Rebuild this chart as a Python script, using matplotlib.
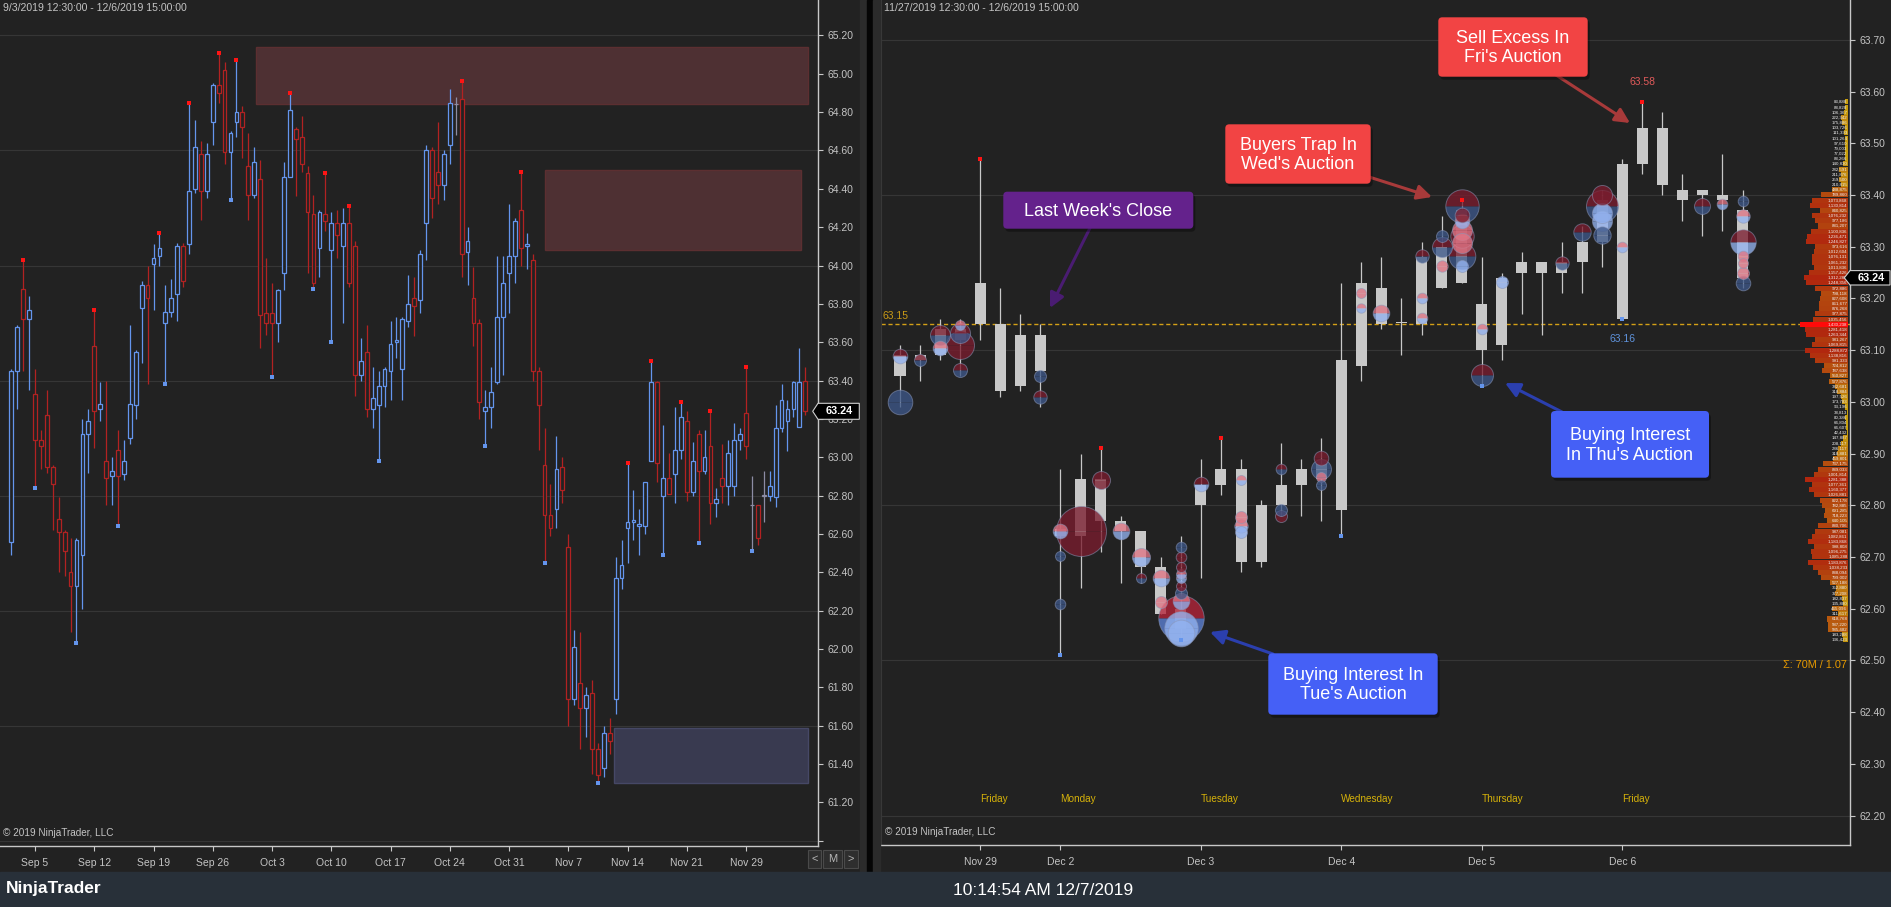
import matplotlib
matplotlib.use('Agg')
import matplotlib.pyplot as plt
import matplotlib.patches as mpatches
import matplotlib.transforms as mtransforms
import numpy as np

plt.rcParams['font.family'] = ['Liberation Sans', 'DejaVu Sans']

W, H = 1891, 907
BG = '#222222'
GRID = '#363636'
AXC = '#c8c8c8'
TXT = '#c4c4c4'

# ---------------- left chart: two bars per session, Sep 3 - Dec 6 ----------------
d_open = [62.56, 63.45, 63.88, 63.72, 63.33, 63.09, 63.22, 62.95, 62.68, 62.61,
          62.40, 62.33, 62.49, 63.12, 63.58, 63.25, 62.98, 62.90, 63.04, 62.91,
          63.10, 63.27, 63.78, 63.90, 64.01, 64.05, 63.70, 63.76, 63.85, 64.10,
          64.11, 64.40, 64.58, 64.39, 64.75, 64.94, 65.02, 64.59, 64.75, 64.80,
          64.52, 64.37, 64.45, 63.75, 63.75, 63.70, 63.96, 64.46, 64.71, 64.67,
          64.48, 64.27, 64.09, 64.27, 64.08, 64.22, 64.10, 64.22, 64.10, 63.43,
          63.55, 63.25, 63.27, 63.37, 63.45, 63.60, 63.46, 63.71, 63.83, 63.82,
          64.22, 64.60, 64.49, 64.42, 64.63, 64.84, 64.87, 64.07, 63.83, 63.70,
          63.24, 63.26, 63.39, 63.73, 63.96, 64.05, 64.29, 64.10, 64.03, 63.45,
          62.96, 62.70, 62.73, 62.95, 62.53, 61.74, 61.82, 61.69, 61.77, 61.48,
          61.38, 61.56, 61.74, 62.37, 62.63, 62.66, 62.64, 62.64, 62.98, 63.39,
          62.80, 62.89, 62.91, 63.04, 63.19, 62.82, 63.12, 62.93, 63.06, 62.76,
          62.89, 62.85, 62.85, 63.09, 63.23, 62.75, 62.75, 62.80, 62.80, 62.79,
          63.15, 63.19, 63.25, 63.16, 63.40]
d_high = [63.46, 63.69, 64.03, 63.84, 63.46, 63.14, 63.35, 62.96, 62.79, 62.62,
          62.58, 62.58, 63.20, 63.25, 63.77, 63.39, 63.40, 63.00, 63.14, 63.09,
          63.69, 63.56, 63.92, 64.00, 64.11, 64.17, 63.90, 63.93, 64.12, 64.12,
          64.85, 64.76, 64.65, 64.64, 64.95, 65.11, 65.06, 64.70, 65.07, 64.83,
          64.69, 64.62, 64.55, 64.04, 63.91, 63.88, 64.54, 64.90, 64.72, 64.78,
          64.52, 64.37, 64.29, 64.48, 64.28, 64.29, 64.30, 64.31, 64.13, 63.62,
          63.69, 63.47, 63.45, 63.47, 63.71, 63.73, 63.73, 63.95, 63.94, 64.08,
          64.63, 64.62, 64.75, 64.60, 64.92, 64.88, 64.96, 64.20, 63.99, 63.72,
          63.35, 63.47, 64.05, 64.05, 64.32, 64.25, 64.49, 64.17, 64.06, 63.47,
          63.15, 62.86, 63.11, 63.00, 62.60, 62.10, 62.09, 61.80, 61.84, 61.51,
          61.60, 61.64, 62.48, 62.57, 62.97, 62.83, 62.73, 62.87, 63.50, 63.40,
          63.17, 63.02, 63.26, 63.29, 63.24, 63.08, 63.14, 63.14, 63.24, 62.84,
          63.07, 63.09, 63.18, 63.15, 63.47, 62.90, 62.75, 62.93, 62.93, 63.27,
          63.38, 63.30, 63.40, 63.57, 63.47]
d_low = [62.49, 63.25, 63.45, 63.35, 62.84, 62.94, 62.92, 62.62, 62.40, 62.38,
         62.09, 62.03, 62.21, 62.92, 63.05, 63.19, 62.75, 62.75, 62.64, 62.88,
         63.07, 63.20, 63.49, 63.38, 63.77, 64.00, 63.38, 63.73, 63.71, 63.89,
         64.06, 64.38, 64.24, 64.35, 64.63, 64.85, 64.53, 64.34, 64.67, 64.56,
         64.24, 64.35, 63.57, 63.64, 63.42, 63.60, 63.87, 64.46, 64.36, 64.49,
         63.96, 63.88, 63.94, 64.18, 63.60, 64.04, 63.70, 63.89, 63.32, 63.40,
         63.21, 63.15, 62.98, 63.26, 63.30, 63.52, 63.30, 63.68, 63.63, 63.75,
         64.03, 64.25, 64.32, 64.34, 64.53, 64.68, 63.94, 63.90, 63.58, 63.20,
         63.06, 63.15, 63.38, 63.43, 63.75, 63.91, 64.00, 63.98, 63.40, 63.04,
         62.45, 62.59, 62.63, 62.76, 61.60, 61.71, 61.48, 61.54, 61.35, 61.30,
         61.33, 61.45, 61.66, 62.31, 62.45, 62.57, 62.49, 62.60, 62.98, 62.87,
         62.49, 62.81, 62.76, 62.99, 62.77, 62.80, 62.55, 62.91, 62.65, 62.69,
         62.76, 62.75, 62.80, 63.04, 62.99, 62.51, 62.54, 62.66, 62.77, 62.74,
         63.13, 63.03, 63.21, 63.16, 63.22]
d_close = [63.45, 63.68, 63.72, 63.77, 63.09, 63.06, 62.95, 62.86, 62.61, 62.51,
           62.33, 62.57, 63.12, 63.19, 63.24, 63.28, 62.89, 62.93, 62.90, 62.98,
           63.28, 63.55, 63.90, 63.83, 64.04, 64.09, 63.76, 63.83, 64.10, 63.92,
           64.39, 64.62, 64.39, 64.58, 64.94, 64.90, 64.59, 64.69, 64.80, 64.72,
           64.37, 64.54, 63.74, 63.70, 63.70, 63.87, 64.46, 64.81, 64.66, 64.53,
           64.28, 63.91, 64.28, 64.23, 64.22, 64.16, 64.22, 63.91, 63.43, 63.50,
           63.25, 63.31, 63.37, 63.46, 63.59, 63.61, 63.72, 63.80, 63.79, 64.06,
           64.60, 64.35, 64.42, 64.58, 64.85, 64.84, 64.06, 64.13, 63.70, 63.29,
           63.26, 63.34, 63.73, 63.91, 64.05, 64.23, 64.09, 64.11, 63.45, 63.27,
           62.70, 62.63, 62.94, 62.83, 61.74, 62.01, 61.69, 61.76, 61.48, 61.34,
           61.56, 61.52, 62.37, 62.44, 62.66, 62.67, 62.65, 62.87, 63.39, 62.97,
           62.89, 62.81, 63.04, 63.21, 62.82, 62.98, 62.93, 63.00, 62.76, 62.78,
           62.85, 63.02, 63.09, 63.12, 63.06, 62.75, 62.58, 62.80, 62.85, 63.15,
           63.30, 63.25, 63.39, 63.39, 63.24]
d_swing_high = [2, 14, 25, 30, 35, 38, 47, 53, 57, 76, 86, 104, 108, 113, 118, 124]
d_swing_low = [4, 11, 18, 26, 37, 44, 51, 54, 62, 80, 90, 99, 110, 116, 125]
d_tick_bar = [4, 14, 24, 34, 44, 54, 64, 74, 84, 94, 104, 114, 124]
d_tick_lbl = ['Sep 5', 'Sep 12', 'Sep 19', 'Sep 26', 'Oct 3', 'Oct 10', 'Oct 17',
              'Oct 24', 'Oct 31', 'Nov 7', 'Nov 14', 'Nov 21', 'Nov 29']
d_price_ticks = [61.0, 61.2, 61.4, 61.6, 61.8, 62.0, 62.2, 62.4, 62.6, 62.8, 63.0,
                 63.2, 63.4, 63.6, 63.8, 64.0, 64.2, 64.4, 64.6, 64.8, 65.0, 65.2]
d_grid = [61.0, 61.6, 62.2, 62.8, 63.4, 64.0, 64.6, 65.2]
zone_start = [41.3, 90.1, 101.8]
zone_end = [134.4, 133.2, 134.4]
zone_low = [64.84, 64.08, 61.30]
zone_high = [65.14, 64.50, 61.59]
zone_face = ['#4e3033', '#4e3033', '#393a50']
zone_edge = ['#5c2f31', '#5c2f31', '#464866']

# ---------------- right chart: hourly bars, Nov 27 - Dec 6 ----------------
r_open = [63.09, 63.09, 63.14, 63.14, 63.15, 63.15, 63.13, 63.13, 62.755, 62.74,
          62.85, 62.77, 62.75, 62.68, 62.60, 62.80, 62.84, 62.87, 62.69, 62.80,
          62.84, 62.88, 62.79, 63.07, 63.22, 63.152, 63.15, 63.30, 63.23, 63.19,
          63.11, 63.25, 63.27, 63.25, 63.27, 63.31, 63.16, 63.46, 63.53, 63.41,
          63.40, 63.40, 63.37]
r_high = [63.11, 63.11, 63.16, 63.16, 63.47, 63.22, 63.17, 63.15, 62.87, 62.90,
          62.91, 62.78, 62.75, 62.70, 62.74, 62.89, 62.93, 62.89, 62.81, 62.92,
          62.89, 62.93, 63.23, 63.27, 63.28, 63.20, 63.31, 63.36, 63.39, 63.28,
          63.25, 63.29, 63.27, 63.31, 63.34, 63.41, 63.47, 63.58, 63.56, 63.44,
          63.41, 63.48, 63.41]
r_low = [62.99, 63.04, 63.08, 63.05, 63.12, 63.01, 63.02, 62.99, 62.51, 62.64,
         62.71, 62.65, 62.65, 62.59, 62.54, 62.66, 62.82, 62.67, 62.68, 62.78,
         62.78, 62.77, 62.74, 63.04, 63.14, 63.09, 63.13, 63.22, 63.23, 63.03,
         63.08, 63.17, 63.13, 63.21, 63.21, 63.26, 63.16, 63.44, 63.40, 63.35,
         63.32, 63.33, 63.22]
r_close = [63.05, 63.08, 63.09, 63.12, 63.23, 63.02, 63.03, 63.06, 62.74, 62.85,
           62.77, 62.75, 62.68, 62.59, 62.56, 62.84, 62.87, 62.69, 62.80, 62.84,
           62.87, 62.85, 63.08, 63.23, 63.15, 63.152, 63.28, 63.22, 63.37, 63.10,
           63.24, 63.27, 63.25, 63.27, 63.31, 63.39, 63.46, 63.53, 63.42, 63.39,
           63.41, 63.39, 63.24]
r_swing_high = [4, 10, 16, 28, 37]
r_swing_low = [8, 14, 22, 29, 36]
r_tick_bar = [4, 8, 15, 22, 29, 36]
r_tick_lbl = ['Nov 29', 'Dec 2', 'Dec 3', 'Dec 4', 'Dec 5', 'Dec 6']
r_day_names = ['Friday', 'Monday', 'Tuesday', 'Wednesday', 'Thursday', 'Friday']
r_price_ticks = [62.2, 62.3, 62.4, 62.5, 62.6, 62.7, 62.8, 62.9, 63.0, 63.1,
                 63.2, 63.3, 63.4, 63.5, 63.6, 63.7]
r_grid = [62.2, 62.5, 62.8, 63.1, 63.4, 63.7]
last_week_close = 63.15
last_price = 63.24

# order-flow bubbles: bar, price, radius (px), kind
b_bar = [0, 0, 1, 2, 2, 3, 3, 3, 3, 7, 7, 8, 8, 8, 9, 10, 11, 12, 12, 13, 13,
         14, 14, 14, 14, 14, 14, 14, 14, 14, 14, 14, 15, 17, 17, 17, 17, 19, 19, 19,
         21, 21, 21, 21, 23, 23, 24, 26, 26, 26, 27, 27, 27, 28, 28, 28, 28, 28, 28,
         28, 28, 29, 29, 30, 33, 34, 35, 35, 35, 35, 35, 36, 40, 41, 42, 42, 42, 42,
         42, 42, 42]
b_price = [63.000, 63.089, 63.081, 63.129, 63.104, 63.110, 63.133, 63.149, 63.062,
           63.050, 63.010, 62.750, 62.701, 62.609, 62.750, 62.849, 62.750, 62.700,
           62.660, 62.660, 62.612, 62.720, 62.700, 62.681, 62.668, 62.659, 62.643,
           62.630, 62.614, 62.581, 62.562, 62.552, 62.841, 62.849, 62.778, 62.759,
           62.749, 62.870, 62.791, 62.779, 62.891, 62.870, 62.855, 62.839, 63.210,
           63.181, 63.171, 63.281, 63.200, 63.162, 63.320, 63.300, 63.262, 63.379,
           63.361, 63.349, 63.332, 63.320, 63.307, 63.281, 63.262, 63.140, 63.051,
           63.231, 63.269, 63.329, 63.379, 63.400, 63.365, 63.349, 63.323, 63.300,
           63.379, 63.383, 63.389, 63.360, 63.310, 63.281, 63.268, 63.249, 63.229]
b_radius = [12.3, 7.3, 6.0, 10.0, 7.3, 14.0, 10.0, 5.0, 7.0, 6.0, 6.7, 7.3, 5.0, 5.3,
            25.0, 9.0, 8.3, 9.0, 5.0, 8.3, 6.0, 5.3, 5.3, 5.0, 5.0, 5.0, 5.0, 6.0, 8.3,
            22.7, 16.7, 13.3, 7.3, 5.0, 6.0, 6.7, 6.0, 5.3, 6.0, 6.0, 7.3, 10.0, 5.0,
            5.0, 5.0, 4.7, 8.3, 6.7, 5.3, 5.3, 6.0, 10.0, 5.7, 16.7, 7.3, 7.3, 10.0,
            11.7, 10.0, 13.3, 6.0, 5.3, 11.0, 6.0, 6.7, 8.7, 16.0, 10.0, 10.0, 10.0,
            8.7, 5.3, 8.0, 5.3, 5.3, 6.7, 12.7, 5.3, 5.0, 6.0, 7.3]
b_kind = ['b', 'e', 'd', 'd', 'l', 'r', 'd', 'l', 'd', 'b', 'd', 'l', 'b', 'b',
          'r', 'r', 'l', 'l', 'd', 'l', 'p', 'b', 'r', 'r', 'l', 'l', 'r', 'b', 'l',
          'x', 'c', 'c', 'e', 'l', 'p', 'l', 'c', 'd', 'b', 'r', 'r', 'b', 'p', 'b',
          'p', 'l', 'l', 'd', 'l', 'l', 'b', 'd', 'p', 'd', 'r', 'l', 'p', 'r', 'p',
          'd', 'c', 'l', 'd', 'c', 'd', 'd', 'd', 'r', 'c', 'c', 'b', 'l', 'd', 'l',
          'b', 'l', 'e', 'p', 'p', 'p', 'b']
kind_colors = {'d': ('#7a1c2e', '#3d5789'), 'l': ('#e07585', '#93b2ef'),
               'b': ('#3d5789', '#3d5789'), 'r': ('#7a1c2e', '#7a1c2e'),
               'p': ('#e07585', '#e07585'), 'c': ('#93b2ef', '#93b2ef'),
               'x': ('#b5243a', '#5c82d6'), 'e': ('#7a1c2e', '#93b2ef')}

# volume profile, one row per cent from 63.58 down to 62.54
vp_top = 63.58
vp_volume = [83888, 88828, 106367, 222342, 175886, 103726, 111393, 101264, 97610, 79003,
             77022, 88266, 140830, 282591, 211876, 259500, 210815, 488875, 789860, 1073868,
             1130814, 840825, 1076232, 977186, 881207, 1100836, 1236471, 1246827, 973616, 1012604,
             1076131, 1061232, 1013836, 1157426, 1312280, 1248356, 972886, 798118, 827608, 861677,
             876268, 977875, 1035456, 1430238, 1281418, 1263344, 981267, 1069815, 1288872, 1138816,
             991333, 724812, 787638, 550827, 577876, 382681, 318884, 197526, 173783, 93196,
             38813, 80386, 66804, 66607, 42432, 147887, 208117, 286117, 318881, 459801,
             737175, 889033, 1001814, 1281388, 1077361, 1160377, 1026881, 822178, 782885, 691285,
             718223, 640105, 880706, 987081, 1082861, 1183868, 998808, 1096275, 1085288, 1183876,
             1038233, 888094, 799002, 527188, 352880, 377208, 182837, 135880, 465096, 311617,
             618768, 587220, 585482, 183288, 136423]

fig = plt.figure(figsize=(W / 100, H / 100), dpi=100, facecolor=BG)
pxT = mtransforms.Affine2D().scale(1.0 / W, -1.0 / H).translate(0, 1) + fig.transFigure


def rect_px(x, y, w, h, **kw):
    fig.add_artist(mpatches.Rectangle((x, y), w, h, transform=pxT, **kw))


def text_px(x, y, s, **kw):
    return fig.text(x, y, s, transform=pxT, **kw)


def style_axes(ax, yticks, ylabels, xticks, xlabels):
    ax.set_facecolor(BG)
    for side in ['left', 'top']:
        ax.spines[side].set_visible(False)
    for side in ['right', 'bottom']:
        ax.spines[side].set_color(AXC)
        ax.spines[side].set_linewidth(1.0)
    ax.yaxis.tick_right()
    ax.set_yticks(yticks)
    ax.set_yticklabels(ylabels)
    ax.set_xticks(xticks)
    ax.set_xticklabels(xlabels)
    ax.tick_params(axis='y', colors=AXC, labelcolor=TXT, length=3.6, width=0.8,
                   pad=3.0, labelsize=7.5)
    ax.tick_params(axis='x', colors=AXC, labelcolor=TXT, length=3.6, width=0.8,
                   pad=5.0, labelsize=7.5)


# ---------------- left panel ----------------
axL = fig.add_axes([0, (H - 846) / H, 818 / W, 846 / H])
style_axes(axL, d_price_ticks, [''] + ['%.2f' % v for v in d_price_ticks[1:]],
           d_tick_bar, d_tick_lbl)
axL.set_xlim(-1.907, 136.15)
axL.set_ylim(60.972, 65.385)
for g in d_grid:
    axL.axhline(g, color=GRID, lw=0.8, zorder=0)
for x0, x1, lo, hi, fc, ec in zip(zone_start, zone_end, zone_low, zone_high, zone_face, zone_edge):
    axL.add_patch(mpatches.Rectangle((x0, lo), x1 - x0, hi - lo, fc=fc, ec=ec, lw=1, zorder=1))

xd = np.arange(len(d_open))
o, h, l, c = map(np.array, (d_open, d_high, d_low, d_close))
dcol = np.where(c > o, '#6495ed', np.where(c < o, '#b22222', '#8c8ca4'))
axL.vlines(xd, l, h, colors=dcol, lw=0.9, zorder=2)
body_h = np.maximum(np.abs(c - o), 0.002)
axL.bar(xd, body_h, bottom=np.minimum(o, c), width=0.64, facecolor=BG,
        edgecolor=dcol, linewidth=0.9, zorder=3)
axL.plot(d_swing_high, h[d_swing_high], 's', color='#ff1414', ms=2.6, mew=0, zorder=4)
axL.plot(d_swing_low, l[d_swing_low], 's', color='#6495ed', ms=2.6, mew=0, zorder=4)

# ---------------- right panel ----------------
axR = fig.add_axes([881 / W, (H - 845) / H, (1850 - 881) / W, 845 / H])
style_axes(axR, r_price_ticks, ['%.2f' % v for v in r_price_ticks], r_tick_bar, r_tick_lbl)
axR.spines['left'].set_visible(True)
axR.spines['left'].set_color('#3c3c3c')
axR.set_xlim(-0.947, 47.358)
axR.set_ylim(62.143, 63.777)
for g in r_grid:
    axR.axhline(g, color=GRID, lw=0.8, zorder=0)
axR.axhline(last_week_close, color='#d4a017', lw=1.0, ls=(0, (3, 2)), zorder=1)

xr = np.arange(len(r_open))
ro, rh, rl, rc = map(np.array, (r_open, r_high, r_low, r_close))
axR.vlines(xr, rl, rh, colors='#c8c8c8', lw=0.9, zorder=2)
axR.bar(xr, np.maximum(np.abs(rc - ro), 0.002), bottom=np.minimum(ro, rc), width=0.55,
        color='#c8c8c8', zorder=3)
axR.plot(r_swing_high, rh[r_swing_high], 's', color='#ff1414', ms=2.6, mew=0, zorder=6)
axR.plot(r_swing_low, rl[r_swing_low], 's', color='#6495ed', ms=2.6, mew=0, zorder=6)

order = np.argsort(b_radius)[::-1]
for rank, k in enumerate(order):
    top, bot = kind_colors[b_kind[k]]
    ms = 2 * b_radius[k] * 0.72
    z = 4 + rank * 0.002
    axR.plot(b_bar[k], b_price[k], 'o', ms=ms, fillstyle='top', markerfacecolor=top,
             markerfacecoloralt=bot, markeredgecolor='none', mew=0, alpha=0.78, zorder=z)
    axR.plot(b_bar[k], b_price[k], 'o', ms=ms, fillstyle='none', markeredgecolor='#8a96b8',
             mew=0.7, alpha=0.55, zorder=z + 0.001)

# volume profile
vp_levels = vp_top - 0.01 * np.arange(len(vp_volume))
vp_vol = np.array(vp_volume)
frac = vp_vol / vp_vol.max()
fs = [0, 0.35, 0.7, 1.0]
vp_cols = [(np.interp(f, fs, [200, 186, 176, 178]) / 255,
            np.interp(f, fs, [168, 98, 56, 30]) / 255,
            np.interp(f, fs, [12, 14, 14, 14]) / 255) for f in frac]
vp_cols[int(np.argmax(vp_vol))] = '#ff0a0a'
vp_right = (1848 - 900) / 20.06
vp_width = vp_vol / 29800.0 / 20.06
axR.barh(vp_levels, -vp_width, left=vp_right, height=0.0098, color=vp_cols, zorder=7)
for lev, v in zip(vp_levels, vp_volume):
    axR.text(vp_right - 0.03, lev, f'{v:,}', fontsize=3.2, color='#f0f0f0',
             ha='right', va='center', zorder=8)

for bar, name in zip(r_tick_bar, r_day_names):
    axR.text(bar, 62.232, name, color='#d6b20a', fontsize=7.2, ha='left', va='center')
axR.text(-0.85, 63.166, '63.15', color='#c99a16', fontsize=7.5, ha='left', va='center')
axR.text(37, 63.619, '63.58', color='#e05a5a', fontsize=7.5, ha='center', va='center')
axR.text(36, 63.122, '63.16', color='#5f93dc', fontsize=7.5, ha='center', va='center')
axR.text(47.21, 62.491, 'Σ: 70M / 1.07', color='#e89b00', fontsize=7.8, ha='right',
         va='center')

# ---------------- frame pieces ----------------
rect_px(860, 0, 7, 872, color='#2b2b2b', zorder=1)
rect_px(867, 0, 6, 872, color='#050505', zorder=1)
rect_px(873, 0, 7, 872, color='#2b2b2b', zorder=1)
rect_px(0, 872, W, 35, color='#283039', zorder=1)

text_px(3, 8, '9/3/2019 12:30:00 - 12/6/2019 15:00:00', color=TXT, fontsize=7.6,
        ha='left', va='center')
text_px(884, 8, '11/27/2019 12:30:00 - 12/6/2019 15:00:00', color=TXT, fontsize=7.6,
        ha='left', va='center')
text_px(3, 833, '© 2019 NinjaTrader, LLC', color=TXT, fontsize=7.2, ha='left', va='center')
text_px(885, 832, '© 2019 NinjaTrader, LLC', color=TXT, fontsize=7.2, ha='left',
        va='center')
text_px(6, 889, 'NinjaTrader', color='white', fontsize=12.5, fontweight='bold',
        ha='left', va='center')
text_px(1043, 890.5, '10:14:54 AM 12/7/2019', color='white', fontsize=12.5,
        ha='center', va='center')

for bx, bw, lab in [(808, 13, '<'), (823, 19, 'M'), (844, 14, '>')]:
    rect_px(bx, 850, bw, 18, fc='#2e2e2e', ec='#4a4a4a', lw=0.8, zorder=2)
    text_px(bx + bw / 2, 859, lab, color='#b4b4b4', fontsize=8, ha='center', va='center',
            zorder=3)


def price_flag(x_tip, x_body, x_end, yc, half, label):
    pts = [(x_tip, yc), (x_body, yc - half), (x_end, yc - half), (x_end, yc + half),
           (x_body, yc + half)]
    fig.add_artist(mpatches.Polygon(pts, closed=True, transform=pxT, fc='black',
                                    ec='#d0d0d0', lw=0.8, zorder=3))
    text_px((x_body + x_end) / 2 + 1, yc, label, color='white', fontsize=7.8,
            fontweight='bold', ha='center', va='center', zorder=4)


price_flag(812.7, 818, 859.3, 411.3, 8, '%.2f' % last_price)
price_flag(1844.3, 1850, 1890, 277.8, 7.2, '%.2f' % last_price)


def callout(x0, y0, x1, y1, label, fc, start, end, ac):
    fig.add_artist(mpatches.FancyArrowPatch(start, end, transform=pxT,
                                            arrowstyle='-|>,head_length=0.8,head_width=0.4',
                                            mutation_scale=11, color=ac, lw=2.2,
                                            shrinkA=0, shrinkB=0, zorder=5))
    fig.add_artist(mpatches.FancyBboxPatch((x0 + 2, y0 + 3), x1 - x0, y1 - y0,
                                           boxstyle='round,pad=0,rounding_size=4',
                                           transform=pxT, fc='black', ec='none',
                                           alpha=0.35, zorder=6))
    fig.add_artist(mpatches.FancyBboxPatch((x0, y0), x1 - x0, y1 - y0,
                                           boxstyle='round,pad=0,rounding_size=4',
                                           transform=pxT, fc=fc, ec='none', zorder=7))
    text_px((x0 + x1) / 2, (y0 + y1) / 2 + 1, label, color='white', fontsize=13,
            ha='center', va='center', linespacing=1.2, zorder=8)


callout(1003.3, 191.7, 1193.3, 228.7, "Last Week's Close", '#64228c',
        (1090, 228), (1050, 308), '#4a1c72')
callout(1225.3, 124.3, 1370.7, 183.7, "Buyers Trap In\nWed's Auction", '#f24444',
        (1366, 176), (1432, 197), '#a83a3a')
callout(1438.3, 17.3, 1587.7, 76.7, "Sell Excess In\nFri's Auction", '#f24444',
        (1556, 75), (1630, 123), '#a83a3a')
callout(1551, 411, 1709, 477.7, "Buying Interest\nIn Thu's Auction", '#4560f6',
        (1562, 412), (1505, 383), '#2b3fae')
callout(1268.3, 653.3, 1437.7, 714.7, "Buying Interest In\nTue's Auction", '#4560f6',
        (1273, 654), (1210, 632), '#2b3fae')

fig.savefig('out.png', dpi=100, facecolor=fig.get_facecolor())
